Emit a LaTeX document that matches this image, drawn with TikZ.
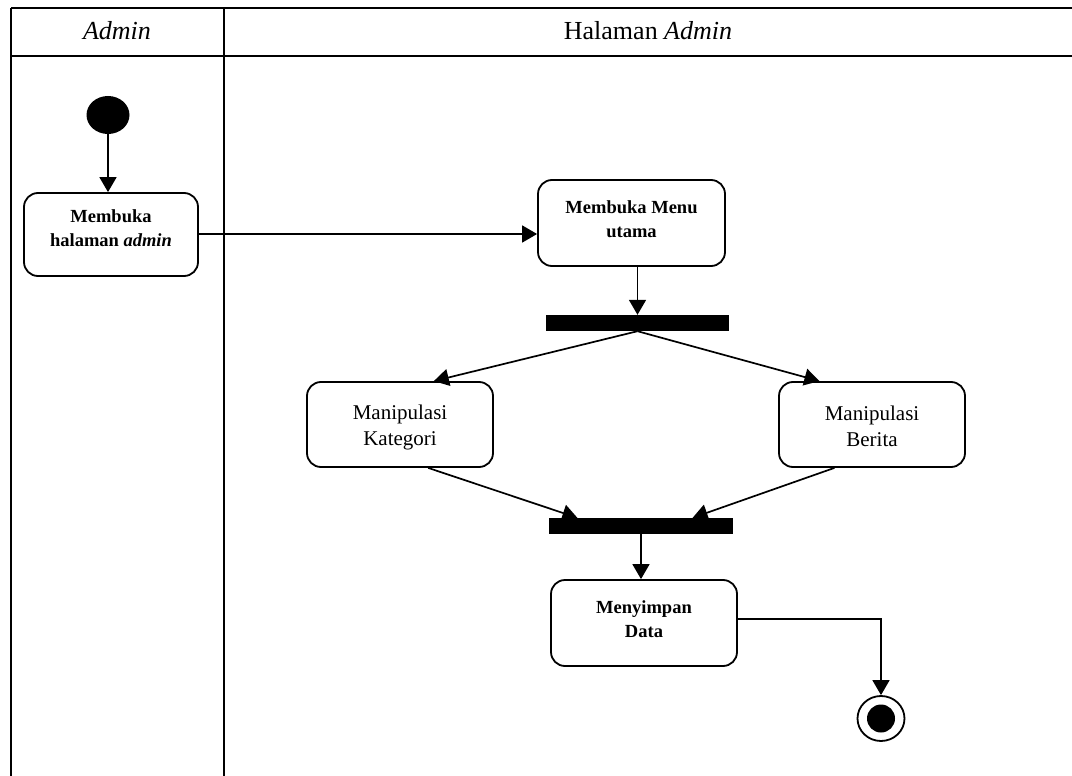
\documentclass[tikz,border=0pt]{standalone}
\usepackage{fontspec}
\setmainfont{Liberation Serif}
\usetikzlibrary{arrows.meta,calc,shapes.geometric}

\tikzset{
  lane/.style={line width=2pt},
  act/.style={draw, line width=1.8pt, rounded corners=14pt, fill=white, inner sep=0pt},
  boldtxt/.style={font=\fontsize{18.5}{24}\selectfont\bfseries, align=center},
  plaintxt/.style={font=\fontsize{21}{26}\selectfont, align=center},
  headtxt/.style={font=\fontsize{26}{30}\selectfont},
  bar/.style={fill=black, draw=none, inner sep=0pt, minimum height=16pt},
  flow/.style={line width=1.7pt, -{Triangle[length=15pt,width=17pt]}},
}

\begin{document}
\begin{tikzpicture}[x=1pt,y=-1pt]
\useasboundingbox (0,0) rectangle (1072,776);

% swimlane frame
\coordinate (tl) at (11,7.7);
\coordinate (tr) at (1072,7.7);
\coordinate (hl) at (11,56);
\coordinate (hr) at (1072,56);
\coordinate (bl) at (11,776);
\coordinate (dt) at (223.5,7.7);
\coordinate (db) at (223.5,776);
\draw[lane] (tl) -- (tr);
\draw[lane] (hl) -- (hr);
\draw[lane] (tl) -- (bl);
\draw[lane] (dt) -- (db);

\node[headtxt] (h1) at (117,31) {\textit{Admin}};
\node[headtxt] (h2) at (648,31) {Halaman \textit{Admin}};

% start and end states
\node[ellipse, fill=black, inner sep=0pt, minimum width=43pt, minimum height=38pt] (init) at (108,115) {};
\node[ellipse, draw, line width=1.8pt, inner sep=0pt, minimum width=47pt, minimum height=45pt] (final) at (881,718.5) {};
\node[circle, fill=black, inner sep=0pt, minimum size=28pt] (finaldot) at (final.center) {};

% activities
\node[act, minimum width=174pt, minimum height=83pt,
  label={[boldtxt, yshift=6pt]center:Membuka\\halaman \textit{admin}}] (b1) at (111,234.5) {};
\node[act, minimum width=187pt, minimum height=86pt,
  label={[boldtxt, yshift=4pt]center:Membuka Menu\\utama}] (menu) at (631.5,223) {};
\node[act, minimum width=186pt, minimum height=85pt,
  label={[plaintxt, yshift=-3pt]center:Manipulasi\\Kategori}] (kat) at (400,424.5) {};
\node[act, minimum width=186pt, minimum height=85pt,
  label={[plaintxt, yshift=-2pt]center:Manipulasi\\Berita}] (ber) at (872,424.5) {};
\node[act, minimum width=186pt, minimum height=86pt,
  label={[boldtxt, yshift=3.5pt]center:Menyimpan\\Data}] (simpan) at (644,623) {};

% fork and join bars
\node[bar, minimum width=183pt] (fork) at (637.5,323) {};
\node[bar, minimum width=184pt] (join) at (641,526) {};

% flows
\draw[flow] (init.south) -- (b1.north -| init.south);
\draw[flow] ($(b1.east)+(0,-0.5)$) -- ($(b1.east -| menu.west)+(0,-0.5)$);
\draw[flow] (menu.south -| fork.north) -- (fork.north);
\draw[flow] (fork.south) -- ($(kat.north west)!0.68!(kat.north east)$);
\draw[flow] (fork.south) -- ($(ber.north west)!0.22!(ber.north east)$);
\draw[flow] ($(kat.south west)!0.65!(kat.south east)$) -- ($(join.north west)!0.155!(join.north east)$);
\draw[flow] ($(ber.south west)!0.3!(ber.south east)$) -- ($(join.north west)!0.78!(join.north east)$);
\draw[flow] (join.south) -- (simpan.north -| join.south);
\draw[flow] ($(simpan.east)+(0,-4)$) -| (final.north);
\end{tikzpicture}
\end{document}
